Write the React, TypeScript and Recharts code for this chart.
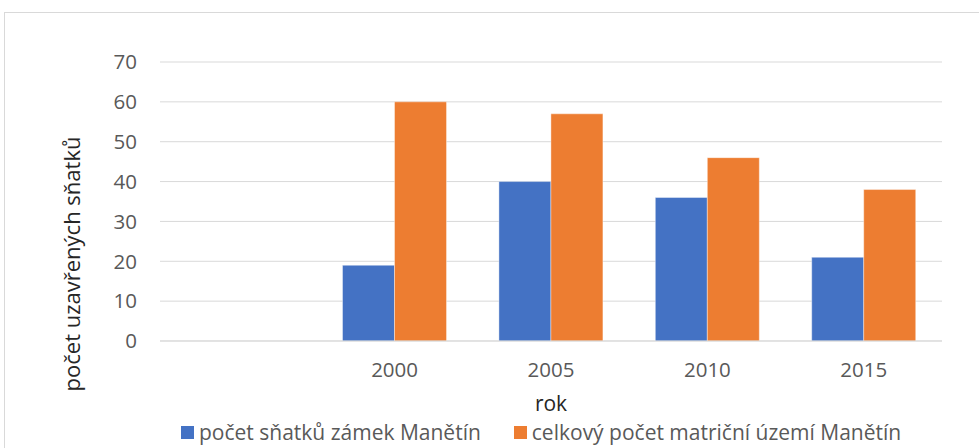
import React from 'react';
import { BarChart, Bar, XAxis, YAxis, CartesianGrid } from 'recharts';

const categories = ['', '2000', '2005', '2010', '2015'];
const castleWeddings = [null, 19, 40, 36, 21];
const totalWeddings = [null, 60, 57, 46, 38];
const yTicks = [0, 10, 20, 30, 40, 50, 60, 70];
const seriesNames = ['počet sňatků zámek Manětín', 'celkový počet matriční území Manětín'];
const seriesColors = ['#4472C4', '#ED7D31'];
const xTitle = 'rok';
const yTitle = 'počet uzavřených sňatků';

const data = categories.map((c, i) => ({ cat: c, a: castleWeddings[i], b: totalWeddings[i] }));

const FONT = '"Open Sans", sans-serif';

const YLabel = (props: any) => {
  const vb = props.viewBox;
  const cx = vb.x + 71;
  const cy = 264;
  return (
    <text x={cx} y={cy} transform={`rotate(-90 ${cx} ${cy})`} textAnchor="middle" dominantBaseline="central"
      fill="#262626" fontSize={22} fontFamily={FONT}>{yTitle}</text>
  );
};

const XLabel = (props: any) => {
  const vb = props.viewBox;
  return (
    <text x={vb.x + vb.width / 2} y={411} textAnchor="middle" fill="#262626" fontSize={21} fontFamily={FONT}>{xTitle}</text>
  );
};

export default function App() {
  return (
    <div style={{ position: 'absolute', left: 0, top: 0, width: 979, height: 448, overflow: 'hidden', background: '#fff' }}>
      <div style={{ position: 'absolute', left: 4, top: 12, width: 1100, height: 600, border: '1px solid #d9d9d9', boxSizing: 'border-box' }} />
      <div style={{ position: 'absolute', left: 0, top: 0 }}>
        <BarChart width={979} height={448} data={data} margin={{ top: 62, right: 37, bottom: 0, left: 0 }}
          barCategoryGap="16.7%" barGap={0}>
          <CartesianGrid vertical={false} stroke="#d9d9d9" strokeWidth={1} />
          <XAxis dataKey="cat" height={107} axisLine={{ stroke: '#d9d9d9' }} tickLine={false} tickSize={0} tickMargin={21}
            tick={{ fill: '#595959', fontSize: 20.5, fontFamily: FONT }} interval={0} label={<XLabel />} />
          <YAxis width={160} domain={[0, 70]} ticks={yTicks} axisLine={false} tickLine={false} tickSize={0} tickMargin={23}
            tick={{ fill: '#595959', fontSize: 20.5, fontFamily: FONT }} label={<YLabel />} />
          <Bar dataKey="a" name={seriesNames[0]} fill={seriesColors[0]} stroke="#ffffff" strokeOpacity={0.4} strokeWidth={1} isAnimationActive={false} />
          <Bar dataKey="b" name={seriesNames[1]} fill={seriesColors[1]} stroke="#ffffff" strokeOpacity={0.4} strokeWidth={1} isAnimationActive={false} />
        </BarChart>
      </div>
      <div style={{ position: 'absolute', left: 181, top: 422, height: 21, lineHeight: '21px', display: 'flex', alignItems: 'center', fontFamily: FONT, fontSize: 21, color: '#595959', whiteSpace: 'nowrap' }}>
        {seriesNames.map((n, i) => (
          <div key={n} style={{ display: 'flex', alignItems: 'center', marginRight: i === 0 ? 33 : 0 }}>
            <div style={{ width: 13, height: 13, background: seriesColors[i], marginRight: 5 }} />
            <span>{n}</span>
          </div>
        ))}
      </div>
    </div>
  );
}
